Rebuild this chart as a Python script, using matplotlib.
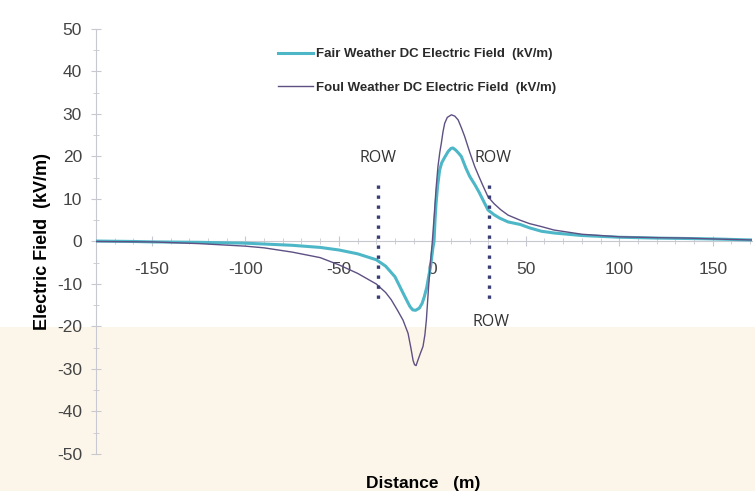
import matplotlib
matplotlib.use("Agg")
import matplotlib.pyplot as plt
from matplotlib.patches import Rectangle

plt.rcParams["font.family"] = ["Liberation Sans", "DejaVu Sans"]
plt.rcParams["axes.unicode_minus"] = False

# fair weather curve (kV/m) vs distance (m)
fair_x = [-180, -160, -150, -125, -100, -90, -75, -60, -50, -40, -30, -25, -20, -16.5, -14, -12,
          -10.5, -9, -7, -5.5, -4.3, -3, -2, -1, -0.5, 0.3, 0.9, 1.5, 2, 2.8, 3.9, 5, 6.6, 8.5,
          10, 11, 12.5, 14, 15.5, 18, 20, 22.7, 25, 27.5, 29.8, 33, 36, 40.5, 47, 52, 58.4, 65,
          80, 100, 120, 136, 150, 171]
fair_y = [0.1, 0.0, -0.1, -0.2, -0.4, -0.6, -0.9, -1.4, -2.0, -2.9, -4.3, -5.8, -8.3, -11.4, -13.6, -15.3,
          -16.1, -16.2, -15.7, -14.6, -13.0, -10.8, -8.3, -6.0, -4.3, -1.5, 0.0, 5.5, 9.0, 13.0, 16.8, 18.5, 19.8, 21.2,
          21.9, 22.0, 21.5, 20.8, 20.0, 17.2, 15.3, 13.4, 11.6, 9.4, 7.4, 6.3, 5.5, 4.6, 4.0, 3.2, 2.4, 2.0,
          1.4, 1.0, 0.8, 0.7, 0.6, 0.35]

# foul weather curve
foul_x = [-180, -150, -125, -100, -90, -75, -60, -50, -40, -30, -25, -22, -18.5, -15.7, -13, -11.5,
          -10.3, -9.5, -8.7, -7.7, -6.3, -5, -4, -3.2, -2, -0.9, 0, 1.2, 2, 3, 4, 4.8, 5.7, 6.6,
          8, 10.2, 12, 13.8, 15.5, 17.3, 20, 22.7, 25, 27.5, 29.8, 33, 36.5, 40.5, 47, 52, 58.4,
          65, 80, 100, 120, 136, 150, 171]
foul_y = [0.0, -0.1, -0.5, -1.1, -1.5, -2.5, -3.8, -5.5, -7.5, -10.0, -12.0, -13.7, -16.3, -18.5, -21.6, -25.0,
          -28.0, -29.0, -29.2, -27.9, -26.2, -24.7, -22.0, -18.5, -10.6, -4.3, 0.0, 7.4, 12.5, 17.6, 21.0, 23.1, 25.8, 27.8,
          29.2, 29.8, 29.5, 28.6, 26.8, 24.7, 21.0, 17.6, 15.2, 12.7, 10.5, 8.9, 7.5, 6.2, 5.0, 4.2, 3.5,
          2.7, 1.7, 1.1, 0.9, 0.8, 0.6, 0.35]

row_x = [-29, 30.5]
row_labels = [(-29, 19.6, "ROW"), (32.7, 19.6, "ROW"), (31.6, -19, "ROW")]

fig = plt.figure(figsize=(7.55, 4.91), dpi=100)
fig.patches.append(Rectangle((0, 0), 1, 0.334, transform=fig.transFigure,
                             facecolor="#fcf6ea", edgecolor="none", zorder=-10))
ax = fig.add_axes([0.127, 0.0754, 0.869, 0.8656])
ax.patch.set_alpha(0)

ax.plot(fair_x, fair_y, color="#4db7c8", lw=2.2, label="Fair Weather DC Electric Field  (kV/m)", zorder=3)
ax.plot(foul_x, foul_y, color="#5e5083", lw=1.0, label="Foul Weather DC Electric Field  (kV/m)", zorder=4)

for rx in row_x:
    ax.plot([rx, rx], [13.3, -14.8], color="#3b3e72", lw=2.4, ls=(0, (1, 2)), zorder=5)
for tx, ty, t in row_labels:
    ax.text(tx, ty, t, ha="center", va="center", fontsize=11.5, color="#333333",
            family=["Open Sans", "DejaVu Sans"])

ax.set_xlim(-180, 171)
ax.set_ylim(-50, 50)
ax.set_xticks(range(-150, 151, 50))
ax.set_xticks(range(-170, 171, 10), minor=True)
ax.set_yticks(range(-50, 51, 10))
ax.set_yticks(range(-45, 50, 10), minor=True)

for s in ["top", "right"]:
    ax.spines[s].set_visible(False)
ax.spines["bottom"].set_position(("data", 0))
ax.spines["bottom"].set_color("#c8c8d0")
ax.spines["left"].set_color("#c8c8d0")
ax.tick_params(axis="both", which="both", direction="inout", color="#c8c8d0", labelsize=12.5,
               labelcolor="#444444")
ax.tick_params(axis="both", which="major", length=7)
ax.tick_params(axis="both", which="minor", length=5)
ax.tick_params(axis="x", pad=11)
ax.tick_params(axis="y", pad=6.5)

ax.set_ylabel("Electric Field  (kV/m)", fontsize=13, fontweight="bold", labelpad=4)
fig.text(0.56, 0.016, "Distance   (m)", ha="center", va="center", fontsize=12.5, fontweight="bold")

ax.legend(loc="upper left", bbox_to_anchor=(0.277, 0.955), frameon=False, borderpad=0,
          borderaxespad=0, prop={"size": 9.5, "weight": "bold"},
          handlelength=2.7, handletextpad=0.2, labelspacing=1.6, labelcolor="#2a2a2a")

fig.savefig("out.png", dpi=100)
